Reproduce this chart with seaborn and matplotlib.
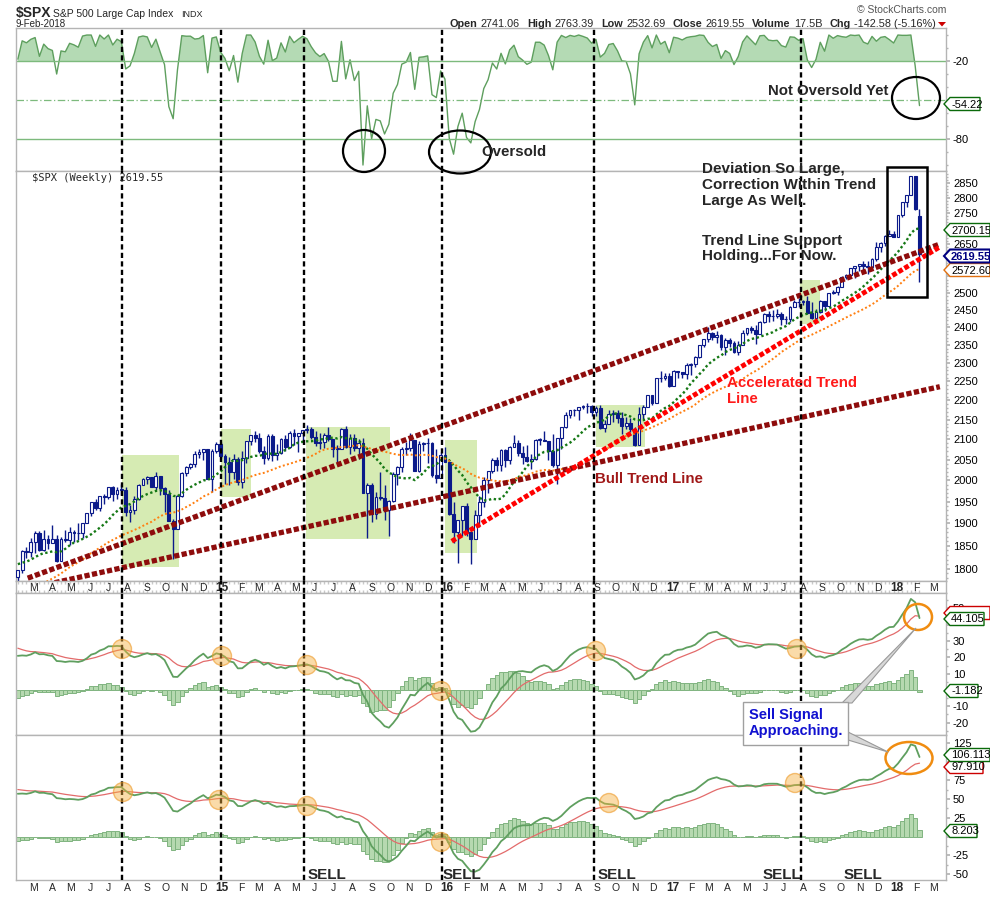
import numpy as np
import pandas as pd
import matplotlib
matplotlib.use("Agg")
import matplotlib.pyplot as plt
import matplotlib.dates as mdates
import matplotlib.transforms as mtrans
from matplotlib.patches import Ellipse, Rectangle, Polygon
import seaborn as sns

sns.set_theme(style="white")
plt.rcParams["font.family"] = ["Liberation Sans", "DejaVu Sans"]

# ---------------- data: weekly S&P 500 (Friday weeks) ----------------
closes_2013 = [1466, 1472, 1486, 1503, 1513, 1518, 1520, 1516, 1518, 1551, 1561, 1557, 1569,
               1553, 1588, 1555, 1582, 1614, 1634, 1667, 1650, 1631, 1643, 1626, 1593, 1606,
               1632, 1680, 1692, 1692, 1710, 1691, 1656, 1664, 1633, 1655, 1688, 1710, 1692,
               1691, 1703, 1745, 1760, 1762, 1771, 1798, 1804, 1806, 1805, 1775, 1818, 1841]
closes_2014 = [1831, 1842, 1839, 1790, 1783, 1797, 1838, 1836, 1859, 1878, 1841, 1866, 1857,
               1865, 1816, 1864, 1863, 1881, 1878, 1878, 1900, 1924, 1949, 1936, 1963, 1961,
               1985, 1967, 1978, 1978, 1925, 1931, 1955, 1988, 2003, 2007, 1985, 2010, 1982,
               1967, 1906, 1887, 1964, 2018, 2032, 2039, 2064, 2068, 2075, 2002, 2071, 2089]
closes_2015 = [2058, 2045, 2019, 2051, 1995, 2055, 2097, 2110, 2104, 2071, 2053, 2108, 2061,
               2067, 2102, 2081, 2117, 2108, 2116, 2123, 2126, 2107, 2092, 2094, 2110, 2102,
               2077, 2077, 2127, 2080, 2104, 2078, 2092, 1971, 1989, 1921, 1961, 1958, 1931,
               1951, 2015, 2033, 2075, 2079, 2099, 2023, 2089, 2090, 2092, 2012, 2006, 2061]
closes_2016 = [2044, 1922, 1880, 1907, 1940, 1880, 1865, 1918, 1948, 2000, 2022, 2050, 2036,
               2073, 2048, 2081, 2092, 2065, 2057, 2047, 2052, 2099, 2099, 2096, 2071, 2037,
               2103, 2130, 2162, 2175, 2174, 2183, 2184, 2184, 2169, 2180, 2128, 2139, 2165,
               2168, 2153, 2133, 2141, 2126, 2085, 2164, 2182, 2213, 2192, 2260, 2258, 2264, 2239]
closes_2017 = [2277, 2275, 2271, 2295, 2297, 2316, 2351, 2367, 2383, 2373, 2378, 2344, 2363,
               2356, 2329, 2349, 2384, 2399, 2391, 2382, 2416, 2439, 2432, 2433, 2438, 2423,
               2425, 2459, 2473, 2472, 2477, 2441, 2426, 2443, 2477, 2461, 2500, 2502, 2519,
               2549, 2553, 2575, 2581, 2588, 2582, 2579, 2602, 2642, 2652, 2675, 2683, 2674]
closes_2018 = [2743, 2786, 2810, 2873, 2762, 2619.55]

# highs / lows from week of 2013-06-07 onward
highs_2013 = [1648, 1654, 1654, 1620, 1632, 1680, 1693, 1698, 1710, 1710, 1699, 1669, 1664, 1672, 1689,
              1730, 1710, 1700, 1704, 1745, 1760, 1775, 1774, 1798, 1804, 1813, 1808, 1810, 1823, 1844]
lows_2013 = [1598, 1608, 1588, 1560, 1601, 1626, 1672, 1676, 1680, 1684, 1655, 1639, 1627, 1633, 1650,
             1685, 1687, 1671, 1646, 1700, 1740, 1752, 1746, 1760, 1780, 1797, 1779, 1772, 1767, 1815]
highs_2014 = [1849, 1843, 1851, 1850, 1798, 1798, 1840, 1847, 1867, 1883, 1882, 1884, 1875,
              1897, 1873, 1869, 1884, 1891, 1885, 1902, 1901, 1924, 1949, 1955, 1963, 1968,
              1985, 1986, 1983, 1991, 1985, 1943, 1964, 1992, 2005, 2011, 2009, 2019, 2010,
              1985, 1977, 1911, 1966, 2019, 2034, 2041, 2072, 2075, 2076, 2076, 2077, 2093]
lows_2014 = [1827, 1823, 1815, 1790, 1770, 1738, 1791, 1824, 1825, 1834, 1839, 1839, 1842,
             1858, 1814, 1816, 1859, 1851, 1859, 1862, 1868, 1901, 1917, 1930, 1928, 1944,
             1955, 1952, 1955, 1966, 1916, 1904, 1922, 1953, 1988, 1991, 1983, 1978, 1965,
             1926, 1906, 1821, 1887, 1960, 2010, 2027, 2032, 2055, 2049, 2002, 1972, 2066]
highs_2015 = [2094, 2064, 2057, 2064, 2057, 2072, 2097, 2101, 2120, 2117, 2083, 2114, 2114,
              2089, 2103, 2111, 2120, 2126, 2117, 2124, 2135, 2130, 2121, 2116, 2115, 2130,
              2102, 2086, 2129, 2133, 2114, 2113, 2102, 2103, 1993, 1993, 1972, 2021, 1990,
              1953, 2020, 2034, 2080, 2094, 2116, 2094, 2097, 2094, 2104, 2093, 2076, 2068]
lows_2015 = [2054, 1992, 1988, 2004, 1990, 1981, 2041, 2085, 2093, 2067, 2040, 2050, 2046,
             2049, 2064, 2072, 2078, 2086, 2068, 2091, 2115, 2100, 2084, 2077, 2078, 2095,
             2056, 2044, 2077, 2078, 2063, 2070, 2052, 1971, 1867, 1903, 1911, 1953, 1908,
             1872, 1950, 1990, 2019, 2061, 2072, 2022, 2019, 2070, 2042, 2008, 1994, 2005]
highs_2016 = [2082, 2039, 1950, 1908, 1940, 1947, 1881, 1930, 1963, 2009, 2022, 2053, 2056,
              2075, 2075, 2084, 2111, 2099, 2083, 2085, 2064, 2100, 2104, 2120, 2097, 2113,
              2104, 2131, 2169, 2176, 2178, 2183, 2188, 2193, 2187, 2184, 2187, 2150, 2176,
              2175, 2175, 2169, 2156, 2154, 2131, 2182, 2189, 2214, 2214, 2260, 2278, 2272, 2273]
lows_2016 = [2043, 1918, 1857, 1812, 1872, 1872, 1810, 1865, 1891, 1937, 1969, 2017, 2023,
             2022, 2033, 2039, 2081, 2060, 2040, 2044, 2026, 2048, 2085, 2096, 2050, 2033,
             1992, 2075, 2128, 2155, 2159, 2148, 2178, 2168, 2160, 2158, 2127, 2119, 2139,
             2145, 2142, 2114, 2125, 2119, 2084, 2097, 2151, 2188, 2187, 2192, 2248, 2254, 2234]
highs_2017 = [2282, 2279, 2276, 2301, 2300, 2319, 2351, 2368, 2401, 2386, 2390, 2382, 2370,
              2369, 2360, 2362, 2392, 2399, 2404, 2406, 2418, 2440, 2446, 2449, 2453, 2443,
              2433, 2463, 2478, 2484, 2478, 2490, 2474, 2454, 2480, 2475, 2500, 2508, 2520,
              2552, 2557, 2575, 2582, 2588, 2597, 2598, 2605, 2658, 2656, 2679, 2695, 2692]
lows_2017 = [2245, 2258, 2258, 2257, 2267, 2288, 2313, 2345, 2358, 2364, 2356, 2336, 2322,
             2344, 2328, 2323, 2369, 2379, 2385, 2353, 2381, 2412, 2415, 2418, 2428, 2406,
             2408, 2415, 2458, 2459, 2464, 2437, 2425, 2417, 2442, 2446, 2471, 2496, 2495,
             2520, 2543, 2547, 2544, 2566, 2567, 2557, 2576, 2598, 2624, 2645, 2676, 2672]
highs_2018 = [2743, 2787, 2811, 2873, 2872, 2763.39]
lows_2018 = [2682, 2737, 2769, 2808, 2759, 2532.69]
last_open = 2741.06

# indicator settings
sma_fast, sma_slow = 13, 34
willr_period = 34
macd1_params = (13, 21, 9)
macd2_params = (13, 34, 14)

# annotation data
vline_dates = ["2014-07-26", "2015-01-03", "2015-05-17", "2015-12-27", "2016-08-30", "2017-08-01"]
box_x0 = ["2014-07-26", "2015-01-03", "2015-05-21", "2016-01-01", "2016-09-02", "2017-07-30"]
box_x1 = ["2014-10-26", "2015-02-20", "2015-10-04", "2016-02-22", "2016-11-21", "2017-09-01"]
box_lo = [1803, 1960, 1866, 1835, 2081, 2408]
box_hi = [2062, 2125, 2130, 2099, 2187, 2538]
upper_trend = (["2014-02-23", "2018-03-14"], [1780, 2650])
lower_trend = (["2014-02-06", "2018-03-14"], [1753, 2236])
accel_trend = (["2016-01-12", "2018-03-14"], [1860, 2641])

# ---------------- assemble ----------------
closes = pd.Series(closes_2013 + closes_2014 + closes_2015 + closes_2016 + closes_2017 + closes_2018,
                   dtype=float)
dates = pd.date_range("2013-01-04", periods=len(closes), freq="W-FRI")
hl_h = highs_2013 + highs_2014 + highs_2015 + highs_2016 + highs_2017 + highs_2018
hl_l = lows_2013 + lows_2014 + lows_2015 + lows_2016 + lows_2017 + lows_2018
n_pre = len(closes) - len(hl_h)
highs = pd.Series([np.nan] * n_pre + hl_h)
lows = pd.Series([np.nan] * n_pre + hl_l)
opens = closes.shift(1)
opens.iloc[-1] = last_open
highs = np.maximum(highs, np.maximum(opens, closes))
lows = np.minimum(lows, np.minimum(opens, closes))
xd = mdates.date2num(dates.to_pydatetime())

sma13 = closes.rolling(sma_fast).mean()
sma34 = closes.rolling(sma_slow).mean()


def ema(n):
    return closes.ewm(span=n, adjust=False).mean()


def macd(f, s, g):
    m = ema(f) - ema(s)
    sg = m.ewm(span=g, adjust=False).mean()
    return m, sg, m - sg


hh = highs.rolling(willr_period).max()
ll = lows.rolling(willr_period).min()
wr = (hh - closes) / (hh - ll) * -100
m1, s1, h1 = macd(*macd1_params)
m2, s2, h2 = macd(*macd2_params)

# ---------------- layout ----------------
W_PX, H_PX = 990, 897
fig = plt.figure(figsize=(W_PX / 100, H_PX / 100), dpi=100)
fig.patch.set_facecolor("white")
X0, X1 = 16, 946


def rect(top, bot):
    return [X0 / W_PX, 1 - bot / H_PX, (X1 - X0) / W_PX, (bot - top) / H_PX]


ax_wr = fig.add_axes(rect(28, 171))
ax_p = fig.add_axes(rect(171, 581))
ax_s = fig.add_axes(rect(581, 593))
ax_m1 = fig.add_axes(rect(593, 735))
ax_m2 = fig.add_axes(rect(735, 880))
axes = [ax_wr, ax_p, ax_s, ax_m1, ax_m2]

xmin = mdates.date2num(pd.Timestamp("2014-02-04"))
xmax = mdates.date2num(pd.Timestamp("2018-03-24"))
show = dates >= pd.Timestamp("2014-02-03")
week_ticks = xd[show]
grey = "#b4b4b4"
for a in axes:
    a.set_xlim(xmin, xmax)
    a.set_facecolor("white")
    for sp in a.spines.values():
        sp.set_color(grey)
        sp.set_linewidth(1.0)
    a.set_xticks([])
    a.yaxis.tick_right()
    a.tick_params(axis="y", which="major", length=3, color=grey, labelsize=8, pad=2, labelcolor="black")
    a.tick_params(axis="y", which="minor", length=1.5, color=grey)
    a.grid(False)


def set_right_ticks(a, ticks, hidden=()):
    a.set_yticks(ticks)
    a.set_yticklabels(["" if t in hidden else f"{t:g}" for t in ticks])


# ---------------- Williams %R panel ----------------
ax_wr.set_ylim(-104.6, 5.4)
wr_s = wr[show].values
ax_wr.fill_between(xd[show], wr_s, -20, where=wr_s > -20, interpolate=True, color="#b4dab4", lw=0)
sns.lineplot(x=xd[show], y=wr_s, ax=ax_wr, color="#5e9f5e", linewidth=1.0)
ax_wr.axhline(-20, color="#7dba7d", lw=1.0)
ax_wr.axhline(-80, color="#7dba7d", lw=1.0)
ax_wr.axhline(-50, color="#7dba7d", lw=0.9, linestyle=(0, (6, 2, 1, 2)))
set_right_ticks(ax_wr, [-20, -50, -80], hidden=(-50,))
ax_wr.set_yticks(np.arange(-100, 1, 10), minor=True)
ax_wr.set_ylabel("")

# ---------------- price panel ----------------
ax_p.set_yscale("log")
ax_p.set_ylim(1774, 2891)
set_right_ticks(ax_p, list(range(1800, 2851, 50)), hidden=(2700, 2600, 2550))
ax_p.yaxis.set_minor_locator(matplotlib.ticker.FixedLocator(np.arange(1780, 2890, 10)))
ax_p.yaxis.set_minor_formatter(matplotlib.ticker.NullFormatter())

for a0, a1, lo, hi in zip(box_x0, box_x1, box_lo, box_hi):
    d0 = mdates.date2num(pd.Timestamp(a0))
    d1 = mdates.date2num(pd.Timestamp(a1))
    ax_p.add_patch(Rectangle((d0, lo), d1 - d0, hi - lo, facecolor="#cfe8a6", alpha=0.85,
                             edgecolor="none", zorder=1))

navy = "#0b1a8a"
o_s, c_s, h_s, l_s = opens[show].values, closes[show].values, highs[show].values, lows[show].values
x_s = xd[show]
ax_p.vlines(x_s, l_s, h_s, color=navy, lw=1.0, zorder=3)
up = c_s >= o_s
body_lo = np.minimum(o_s, c_s)
body_h = np.maximum(np.abs(c_s - o_s), 0.8)
ax_p.bar(x_s[up], body_h[up], bottom=body_lo[up], width=4.6, color="white", edgecolor=navy,
         linewidth=0.8, zorder=4)
ax_p.bar(x_s[~up], body_h[~up], bottom=body_lo[~up], width=4.6, color=navy, edgecolor=navy,
         linewidth=0.8, zorder=4)

sns.lineplot(x=x_s, y=sma13[show].values, ax=ax_p, color="#157815", linewidth=1.7,
             linestyle=(0, (1, 1.1)), zorder=5)
sns.lineplot(x=x_s, y=sma34[show].values, ax=ax_p, color="#ff7f10", linewidth=1.4,
             linestyle=(0, (1, 1.2)), zorder=5)
ax_p.set_ylabel("")


def tline(spec, color, lw):
    dd = [mdates.date2num(pd.Timestamp(d)) for d in spec[0]]
    ln, = ax_p.plot(dd, spec[1], color=color, lw=lw, linestyle=(0, (1, 0.45)), zorder=6)
    ln.set_dash_capstyle("butt")


tline(upper_trend, "#8e0c0c", 3.8)
tline(lower_trend, "#8e0c0c", 3.8)
tline(accel_trend, "#ff0000", 3.5)

# ---------------- date strip / month labels ----------------
ax_s.set_yticks([])
ax_s.set_ylim(0, 1)
ax_s.set_xticks(week_ticks, minor=True)
ax_s.tick_params(axis="x", which="minor", direction="in", length=2, color="#c8c8c8", top=True, bottom=True)
months = pd.date_range("2014-03-01", "2018-03-01", freq="MS")
for m in months:
    xm = mdates.date2num(m) + 3
    lab = f"{m.year % 100}" if m.month == 1 else m.strftime("%b")[0]
    fw = "bold" if m.month == 1 else "normal"
    fs = 8.5 if m.month == 1 else 7.5
    ax_s.text(xm, 0.45, lab, ha="center", va="center", fontsize=fs, fontweight=fw)
    ax_m2.text(xm, -0.055, lab, ha="center", va="center", fontsize=fs, fontweight=fw,
               transform=mtrans.blended_transform_factory(ax_m2.transData, ax_m2.transAxes))

# ---------------- MACD panels ----------------
hist_face, hist_edge = "#b6d9b0", "#80b480"
for a, m, sg, h, lim, ticks, hidden, minors in [
        (ax_m1, m1, s1, h1, (-27.6, 59.5), [50, 40, 30, 20, 10, 0, -10, -20], (40, 0), np.arange(-25, 60, 5)),
        (ax_m2, m2, s2, h2, (-58, 135.5), [125, 100, 75, 50, 25, 0, -25, -50], (100, 0), np.arange(-50, 135, 12.5))]:
    a.set_ylim(*lim)
    a.bar(x_s, h[show].values, width=7, color=hist_face, edgecolor=hist_edge, linewidth=0.7, zorder=2)
    sns.lineplot(x=x_s, y=sg[show].values, ax=a, color="#e36b6b", linewidth=0.9, zorder=3)
    sns.lineplot(x=x_s, y=m[show].values, ax=a, color="#5f9f5f", linewidth=1.3, zorder=4)
    set_right_ticks(a, ticks, hidden)
    a.set_yticks(minors, minor=True)
    a.set_ylabel("")
ax_m2.set_xticks(week_ticks, minor=True)
ax_m2.tick_params(axis="x", which="minor", direction="out", length=2, color="#c8c8c8")

for d in vline_dates:
    xv = mdates.date2num(pd.Timestamp(d))
    for a in axes:
        a.axvline(xv, color="black", lw=1.7, linestyle=(0, (2.2, 1.4)), zorder=7)

# ---------------- overlay annotations (pixel coordinates) ----------------
ov = fig.add_axes([0, 0, 1, 1], zorder=20)
ov.set_xlim(0, W_PX)
ov.set_ylim(H_PX, 0)
ov.axis("off")
ov.patch.set_alpha(0)
renderer = fig.canvas.get_renderer()

ov.text(16, 17, "$SPX", fontsize=10, fontweight="bold", va="baseline")
ov.text(53, 17, "S&P 500 Large Cap Index", fontsize=7.5, va="baseline")
ov.text(181, 17, "INDX", fontsize=6.5, va="baseline")
ov.text(16, 27, "9-Feb-2018", fontsize=7, va="baseline")
ov.text(946, 13, "\u00a9 StockCharts.com", fontsize=7.5, color="#555555", ha="right", va="baseline")

hdr = [("Open", True), ("2741.06", False), ("High", True), ("2763.39", False), ("Low", True),
       ("2532.69", False), ("Close", True), ("2619.55", False), ("Volume", True), ("17.5B", False),
       ("Chg", True), ("-142.58 (-5.16%)", False)]
hdr_texts = []
for t, b in hdr:
    hdr_texts.append(ov.text(0, 27, t, fontsize=7.8, fontweight="bold" if b else "normal", va="baseline"))
widths = [tx.get_window_extent(renderer).width for tx in hdr_texts]
gaps = [3.5 if b else 7 for _, b in hdr]
total = sum(widths) + sum(gaps[:-1])
xpos = 936 - total
for tx, wpx, gp in zip(hdr_texts, widths, gaps):
    tx.set_x(xpos)
    xpos += wpx + gp
ov.add_patch(Polygon([(938, 22), (946, 22), (942, 26.5)], closed=True, fc="#cc0000", ec="none"))

ov.text(32, 178, "$SPX (Weekly) 2619.55", fontsize=7.5, va="center", family="DejaVu Sans Mono")

for cx, cy, w, h in [(916, 98, 48, 42), (364, 151, 42, 42), (460, 152, 62, 43)]:
    ov.add_patch(Ellipse((cx, cy), w, h, fill=False, ec="black", lw=1.6))
ov.text(768, 91, "Not Oversold Yet", fontsize=10.8, fontweight="bold", va="center")
ov.text(481, 152, "Oversold", fontsize=10.8, fontweight="bold", va="center")

ov.add_patch(Rectangle((887, 167), 40, 130, fill=False, ec="black", lw=1.8))
ov.text(702, 185, "Deviation So Large,\nCorrection Within Trend\nLarge As Well.", fontsize=11,
        fontweight="bold", va="center", linespacing=1.15)
ov.text(702, 248.5, "Trend Line Support\nHolding...For Now.", fontsize=11, fontweight="bold",
        va="center", linespacing=1.15)
ov.text(727, 391, "Accelerated Trend\nLine", fontsize=10.8, fontweight="bold", color="#ff1a1a",
        va="center", linespacing=1.15)
ov.text(595, 479, "Bull Trend Line", fontsize=10.8, fontweight="bold", color="#a01818", va="center")

for cx, cy in [(122, 649), (222, 656), (307, 665), (441, 691), (596, 651), (797, 649),
               (123, 792), (219, 800), (307, 806), (441, 842), (609, 803), (795, 783)]:
    ov.add_patch(Ellipse((cx, cy), 19, 19, fc=(0.96, 0.69, 0.25, 0.45), ec=(0.93, 0.6, 0.15, 0.6), lw=1))
ov.add_patch(Ellipse((918, 617), 28, 26, fill=False, ec="#f08c10", lw=1.8))
ov.add_patch(Ellipse((909, 758), 47, 32, fill=False, ec="#f08c10", lw=1.8))

ov.add_patch(Polygon([(842, 703), (852, 703), (916, 628)], closed=True, fc="#d8d8d8", ec="#9a9a9a", lw=0.8))
ov.add_patch(Polygon([(848, 732), (848, 740), (888, 752)], closed=True, fc="#d8d8d8", ec="#9a9a9a", lw=0.8))
ov.add_patch(Rectangle((743, 702), 105, 43, fc="white", ec="#a0a0a0", lw=1))
ov.text(749, 723, "Sell Signal\nApproaching.", fontsize=10.5, fontweight="bold", color="#1010d0",
        va="center", linespacing=1.2)

for xs in [308, 443, 598, 763, 844]:
    ov.text(xs, 879, "SELL", fontsize=11, fontweight="bold", va="baseline")


def tag(y, text, color, w, bold=False, lw=1.0):
    x0, hh = 944, 6.5
    ov.add_patch(Polygon([(x0, y), (x0 + 6, y - hh), (x0 + w, y - hh), (x0 + w, y + hh), (x0 + 6, y + hh)],
                         closed=True, fc="white", ec=color, lw=lw))
    if text:
        ov.text(x0 + 7, y + 0.5, text, color=color if bold else "black", fontsize=8, va="center",
                fontweight="bold" if bold else "normal")


tag(104, "-54.22", "#0a6a0a", 36)
tag(230, "2700.15", "#0a6a0a", 46)
tag(270, "2572.60", "#e07010", 46)
tag(256, "2619.55", "#000080", 46, bold=True, lw=1.5)
tag(613, "", "#cc0000", 46)
tag(619, "44.105", "#0a6a0a", 40)
tag(691, "-1.182", "#0a6a0a", 34)
tag(767, "97.910", "#cc0000", 39)
tag(755, "106.113", "#0a6a0a", 46)
tag(831, "8.203", "#0a6a0a", 33)

fig.savefig("out.png", dpi=100)
